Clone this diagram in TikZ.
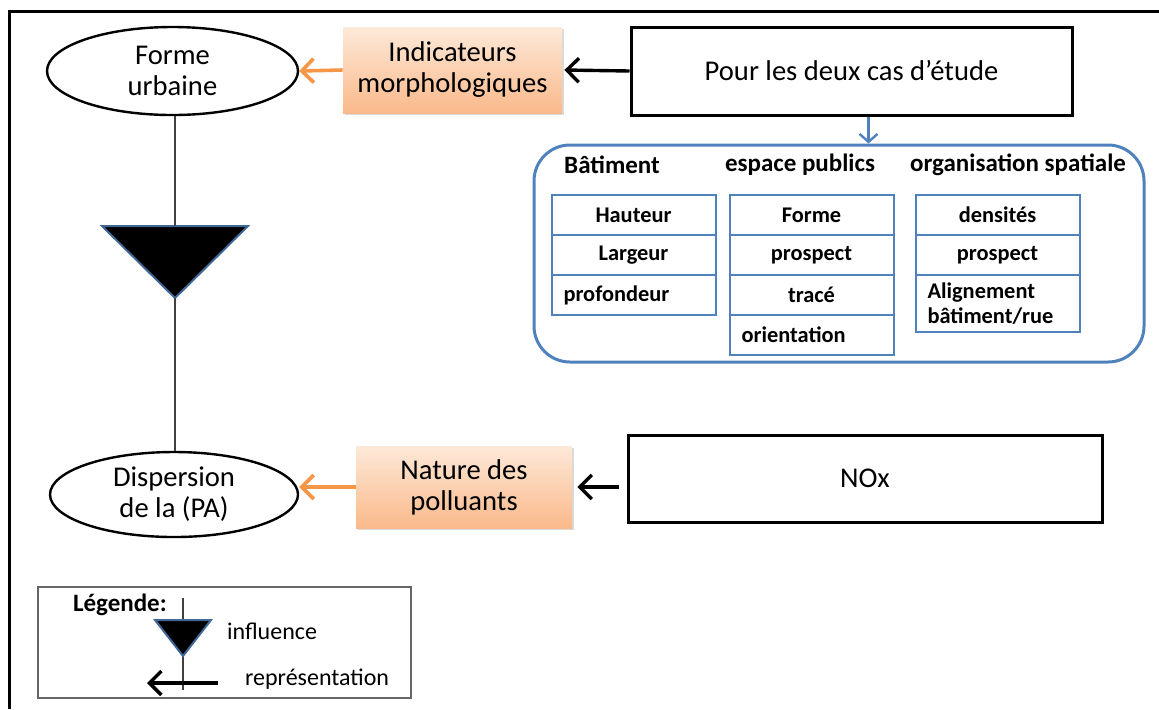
\documentclass[tikz,border=0pt]{standalone}
\usepackage{fontspec}
\setmainfont{Carlito}
\usetikzlibrary{arrows.meta,positioning,shapes.geometric,shadows}

\definecolor{orangeFleche}{HTML}{F79646}
\definecolor{orangeHaut}{HTML}{FDE9D9}
\definecolor{orangeBas}{HTML}{FAB98A}
\definecolor{bleuCadre}{HTML}{4F81BD}
\definecolor{bleuTri}{HTML}{3F6797}

\begin{document}
\begin{tikzpicture}[
  x=0.5pt, y=-0.5pt,
  font=\fontsize{14.3}{15.5}\selectfont,
  forme/.style={draw, ellipse, line width=1.2pt, align=center, inner sep=0pt},
  indic/.style={rectangle, top color=orangeHaut, bottom color=orangeBas, align=center,
    drop shadow={opacity=0.3, shadow xshift=0.8pt, shadow yshift=-1.2pt}},
  cas/.style={draw, line width=1.5pt, align=center},
  cellule/.style={draw=bleuCadre, line width=1pt, outer sep=0pt, minimum width=82pt,
    minimum height=20pt, font=\fontsize{11.2}{12.8}\selectfont\bfseries},
  celluleG/.style={cellule, inner xsep=6pt, text width=70pt, align=left},
  titre/.style={font=\fontsize{12.5}{14}\selectfont\bfseries},
  legtexte/.style={font=\fontsize{12}{14}\selectfont},
  influ/.style={fill=black, draw=bleuTri, line width=1pt, line join=miter},
  lien/.style={line width=0.6pt, black!75},
  rep/.style={-{Straight Barb[length=6pt, width=12pt]}, line width=1.7pt},
  indicFleche/.style={-{Straight Barb[length=6pt, width=12pt]}, line width=1.8pt, orangeFleche},
  bleuFleche/.style={-{Straight Barb[length=4pt, width=9pt]}, line width=1.2pt, bleuCadre}
]
\useasboundingbox (0,0) rectangle (1159,709);

% cadre general (ouvert a droite et en bas)
\draw[line width=1.5pt] (9,709) -- (9,11) -- (1159,11);

% ligne du haut
\node[forme, minimum width=125.5pt, minimum height=44pt] (forme) at (172.5,71) {Forme\\urbaine};
\node[indic, minimum width=109.5pt, minimum height=43pt] (indic) at (452.5,70) {Indicateurs\\morphologiques};
\node[cas, minimum width=220.5pt, minimum height=44pt] (pour) at (851.5,71) {Pour les deux cas d’étude};

\draw[indicFleche] (indic.west) -- (forme.east);
\draw[rep] (pour.west) -- ([xshift=1pt]indic.east);

% indicateurs par famille
\node[draw=bleuCadre, line width=1.5pt, rounded corners=18pt, minimum width=305pt,
  minimum height=108.5pt] (cadre) at (839,253.5) {};
\draw[bleuFleche] ([xshift=8.5pt]pour.south) -- ([xshift=8.5pt]pour.south |- cadre.north);

\node[titre] (batiment) at (612,165) {Bâtiment};
\node[titre] (espace) at (800,165) {espace publics};
\node[titre] (organisation) at (1018,165) {organisation spatiale};

\node[cellule] (hauteur) at (633.5,215) {Hauteur};
\node[cellule, below=0pt of hauteur] (largeur) {Largeur};
\node[celluleG, below=0pt of largeur] (profondeur) {profondeur};

\node[cellule] (formeEsp) at (811.5,215) {Forme};
\node[cellule, below=0pt of formeEsp] (prospectEsp) {prospect};
\node[cellule, below=0pt of prospectEsp] (trace) {tracé};
\node[celluleG, below=0pt of trace] (orientation) {orientation};

\node[cellule] (densites) at (997.5,215) {densités};
\node[cellule, below=0pt of densites] (prospectOrg) {prospect};
\node[celluleG, minimum height=28.5pt, below=0pt of prospectOrg] (alignement) {Alignement\\bâtiment/rue};

% influence
\coordinate (tri) at (175,226);
\coordinate (triPointe) at (175,298);
\filldraw[influ] (tri) ++(-73,0) -- ++(146,0) -- (triPointe) -- cycle;

% ligne du bas
\node[forme, minimum width=124pt, minimum height=42.5pt] (dispersion) at (174,494.5) {Dispersion\\de la (PA)};
\node[indic, minimum width=108pt, minimum height=41pt] (nature) at (464,487) {Nature des\\polluants};
\node[cas, minimum width=237pt, minimum height=43.5pt] (nox) at (865,478.5) {NOx};

\draw[lien] (tri |- forme.south) -- (tri);
\draw[lien] (triPointe) -- (triPointe |- dispersion.north);
\draw[indicFleche] (nature.west) -- (nature.west -| dispersion.east);
\draw[rep] ([xshift=-4pt]nox.west |- nature.east) -- ([xshift=2.5pt]nature.east);

% legende
\node[draw=black!60, line width=0.8pt, minimum width=186.5pt, minimum height=55.5pt] (legende) at (224.5,642.5) {};
\node[titre, anchor=west] (legTitre) at (66,605) {Légende:};
\coordinate (legTri) at (183,620);
\coordinate (legPointe) at (183,656);
\coordinate (legHaut) at (183,598);
\coordinate (legBas) at (183,690);
\draw[lien] (legHaut) -- (legBas);
\filldraw[influ] (legTri) ++(-28,0) -- ++(56,0) -- (legPointe) -- cycle;
\node[legtexte, anchor=west] (legInflu) at (220,631) {influence};
\coordinate (legDebut) at (218,683);
\coordinate (legFin) at (147,683);
\draw[rep] (legDebut) -- (legFin);
\node[legtexte, anchor=west] (legRep) at (238,679) {représentation};
\end{tikzpicture}
\end{document}
